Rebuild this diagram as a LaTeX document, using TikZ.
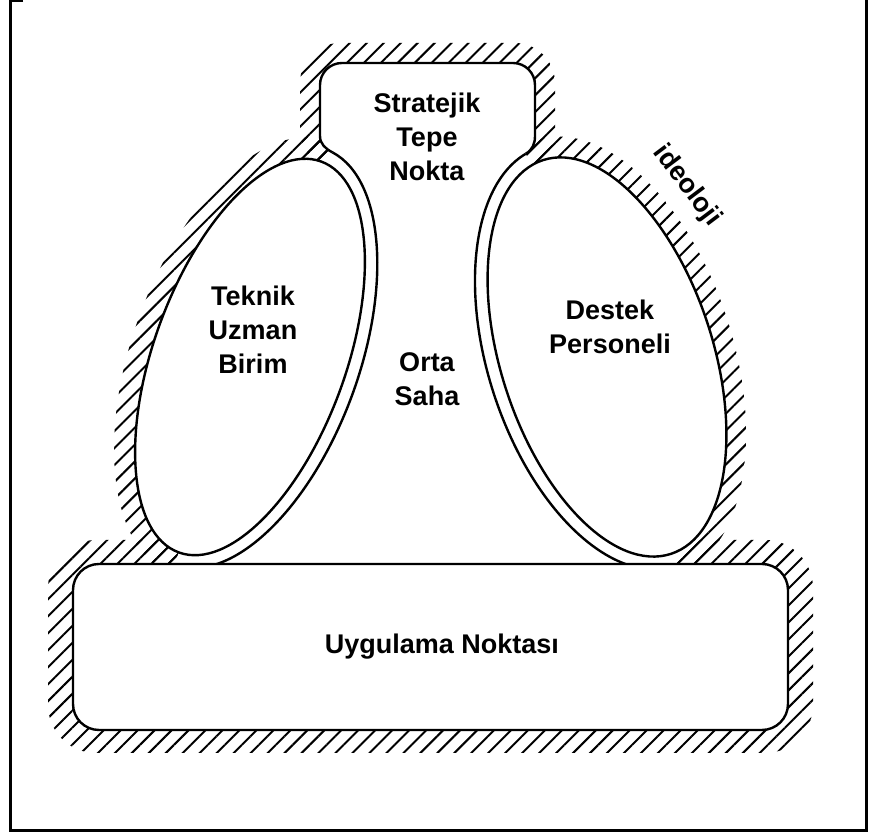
\documentclass[tikz,border=0pt]{standalone}
\usepackage{fontspec}
\setmainfont{Liberation Sans}
\usetikzlibrary{patterns.meta}

\begin{document}
\begin{tikzpicture}[x=1pt, y=1pt,
  lbl/.style={font=\fontsize{27}{34}\selectfont\bfseries, align=center, inner sep=0pt},
  rim/.style={line width=2.4pt},
  hatch/.style={pattern={Lines[angle=45, distance=12pt, line width=2pt]}}]
  \useasboundingbox (0,0) rectangle (871,834);
  % frame
  \draw[line width=3pt] (23,833) -- (10.5,833) -- (10.5,3) -- (866,3) -- (866,834);
  % hatched band round the whole body
  \fill[hatch, rounded corners=40pt] (300,664) rectangle (555,791);
  \fill[hatch, rounded corners=48pt] (48,81) rectangle (813,294);
  \fill[hatch, shift={(250,477)}, rotate=-20] (0,0) ellipse [x radius=118pt, y radius=230pt];
  \fill[hatch, shift={(607,477)}, rotate=18] (0,0) ellipse [x radius=126pt, y radius=228pt];
  % white inside
  \begin{scope}[shift={(250,477)}, rotate=-20]
    \coordinate (lt) at (86:109pt and 221pt);
    \coordinate (lb) at (-90:109pt and 221pt);
    \fill[white] (lt) arc[start angle=86, end angle=-90, x radius=109pt, y radius=221pt] -- cycle;
    \fill[white] (0,0) ellipse [x radius=96pt, y radius=208pt];
  \end{scope}
  \begin{scope}[shift={(607,477)}, rotate=18]
    \coordinate (rt) at (97:119pt and 220pt);
    \coordinate (rb) at (270:119pt and 220pt);
    \fill[white] (rt) arc[start angle=97, end angle=270, x radius=119pt, y radius=220pt] -- cycle;
    \fill[white] (0,0) ellipse [x radius=106pt, y radius=207pt];
  \end{scope}
  \fill[white] (lt) to[out=152, in=-90] (320,698) -- (320,749) arc[start angle=180, end angle=90, radius=22pt]
    -- (513,771) arc[start angle=90, end angle=0, radius=22pt] -- (535,698) to[out=-90, in=31] (rt)
    -- (rb) -- (lb) -- cycle;
  % outlines
  \begin{scope}[shift={(250,477)}, rotate=-20]
    \draw[rim] (0,0) ellipse [x radius=96pt, y radius=208pt];
    \draw[rim] (lt) arc[start angle=86, end angle=-90, x radius=109pt, y radius=221pt];
  \end{scope}
  \begin{scope}[shift={(607,477)}, rotate=18]
    \draw[rim] (0,0) ellipse [x radius=106pt, y radius=207pt];
    \draw[rim] (rt) arc[start angle=97, end angle=270, x radius=119pt, y radius=220pt];
  \end{scope}
  \draw[rim] (lt) to[out=152, in=-90] (320,698) -- (320,749) arc[start angle=180, end angle=90, radius=22pt]
    -- (513,771) arc[start angle=90, end angle=0, radius=22pt] -- (535,698) to[out=-90, in=31] (rt);
  \filldraw[rim, fill=white, rounded corners=26pt] (73,104) rectangle (788,270);
  % labels
  \node[lbl] (apex) at (427,697) {Stratejik\\Tepe\\Nokta};
  \node[lbl] (tech) at (253,504) {Teknik\\Uzman\\Birim};
  \node[lbl] (mid) at (427,455) {Orta\\Saha};
  \node[lbl] (supp) at (610,507) {Destek\\Personeli};
  \node[lbl] (core) at (442,187) {Uygulama Noktası};
  \node[lbl, rotate=-53] (ideo) at (687,648) {ideoloji};
\end{tikzpicture}
\end{document}
